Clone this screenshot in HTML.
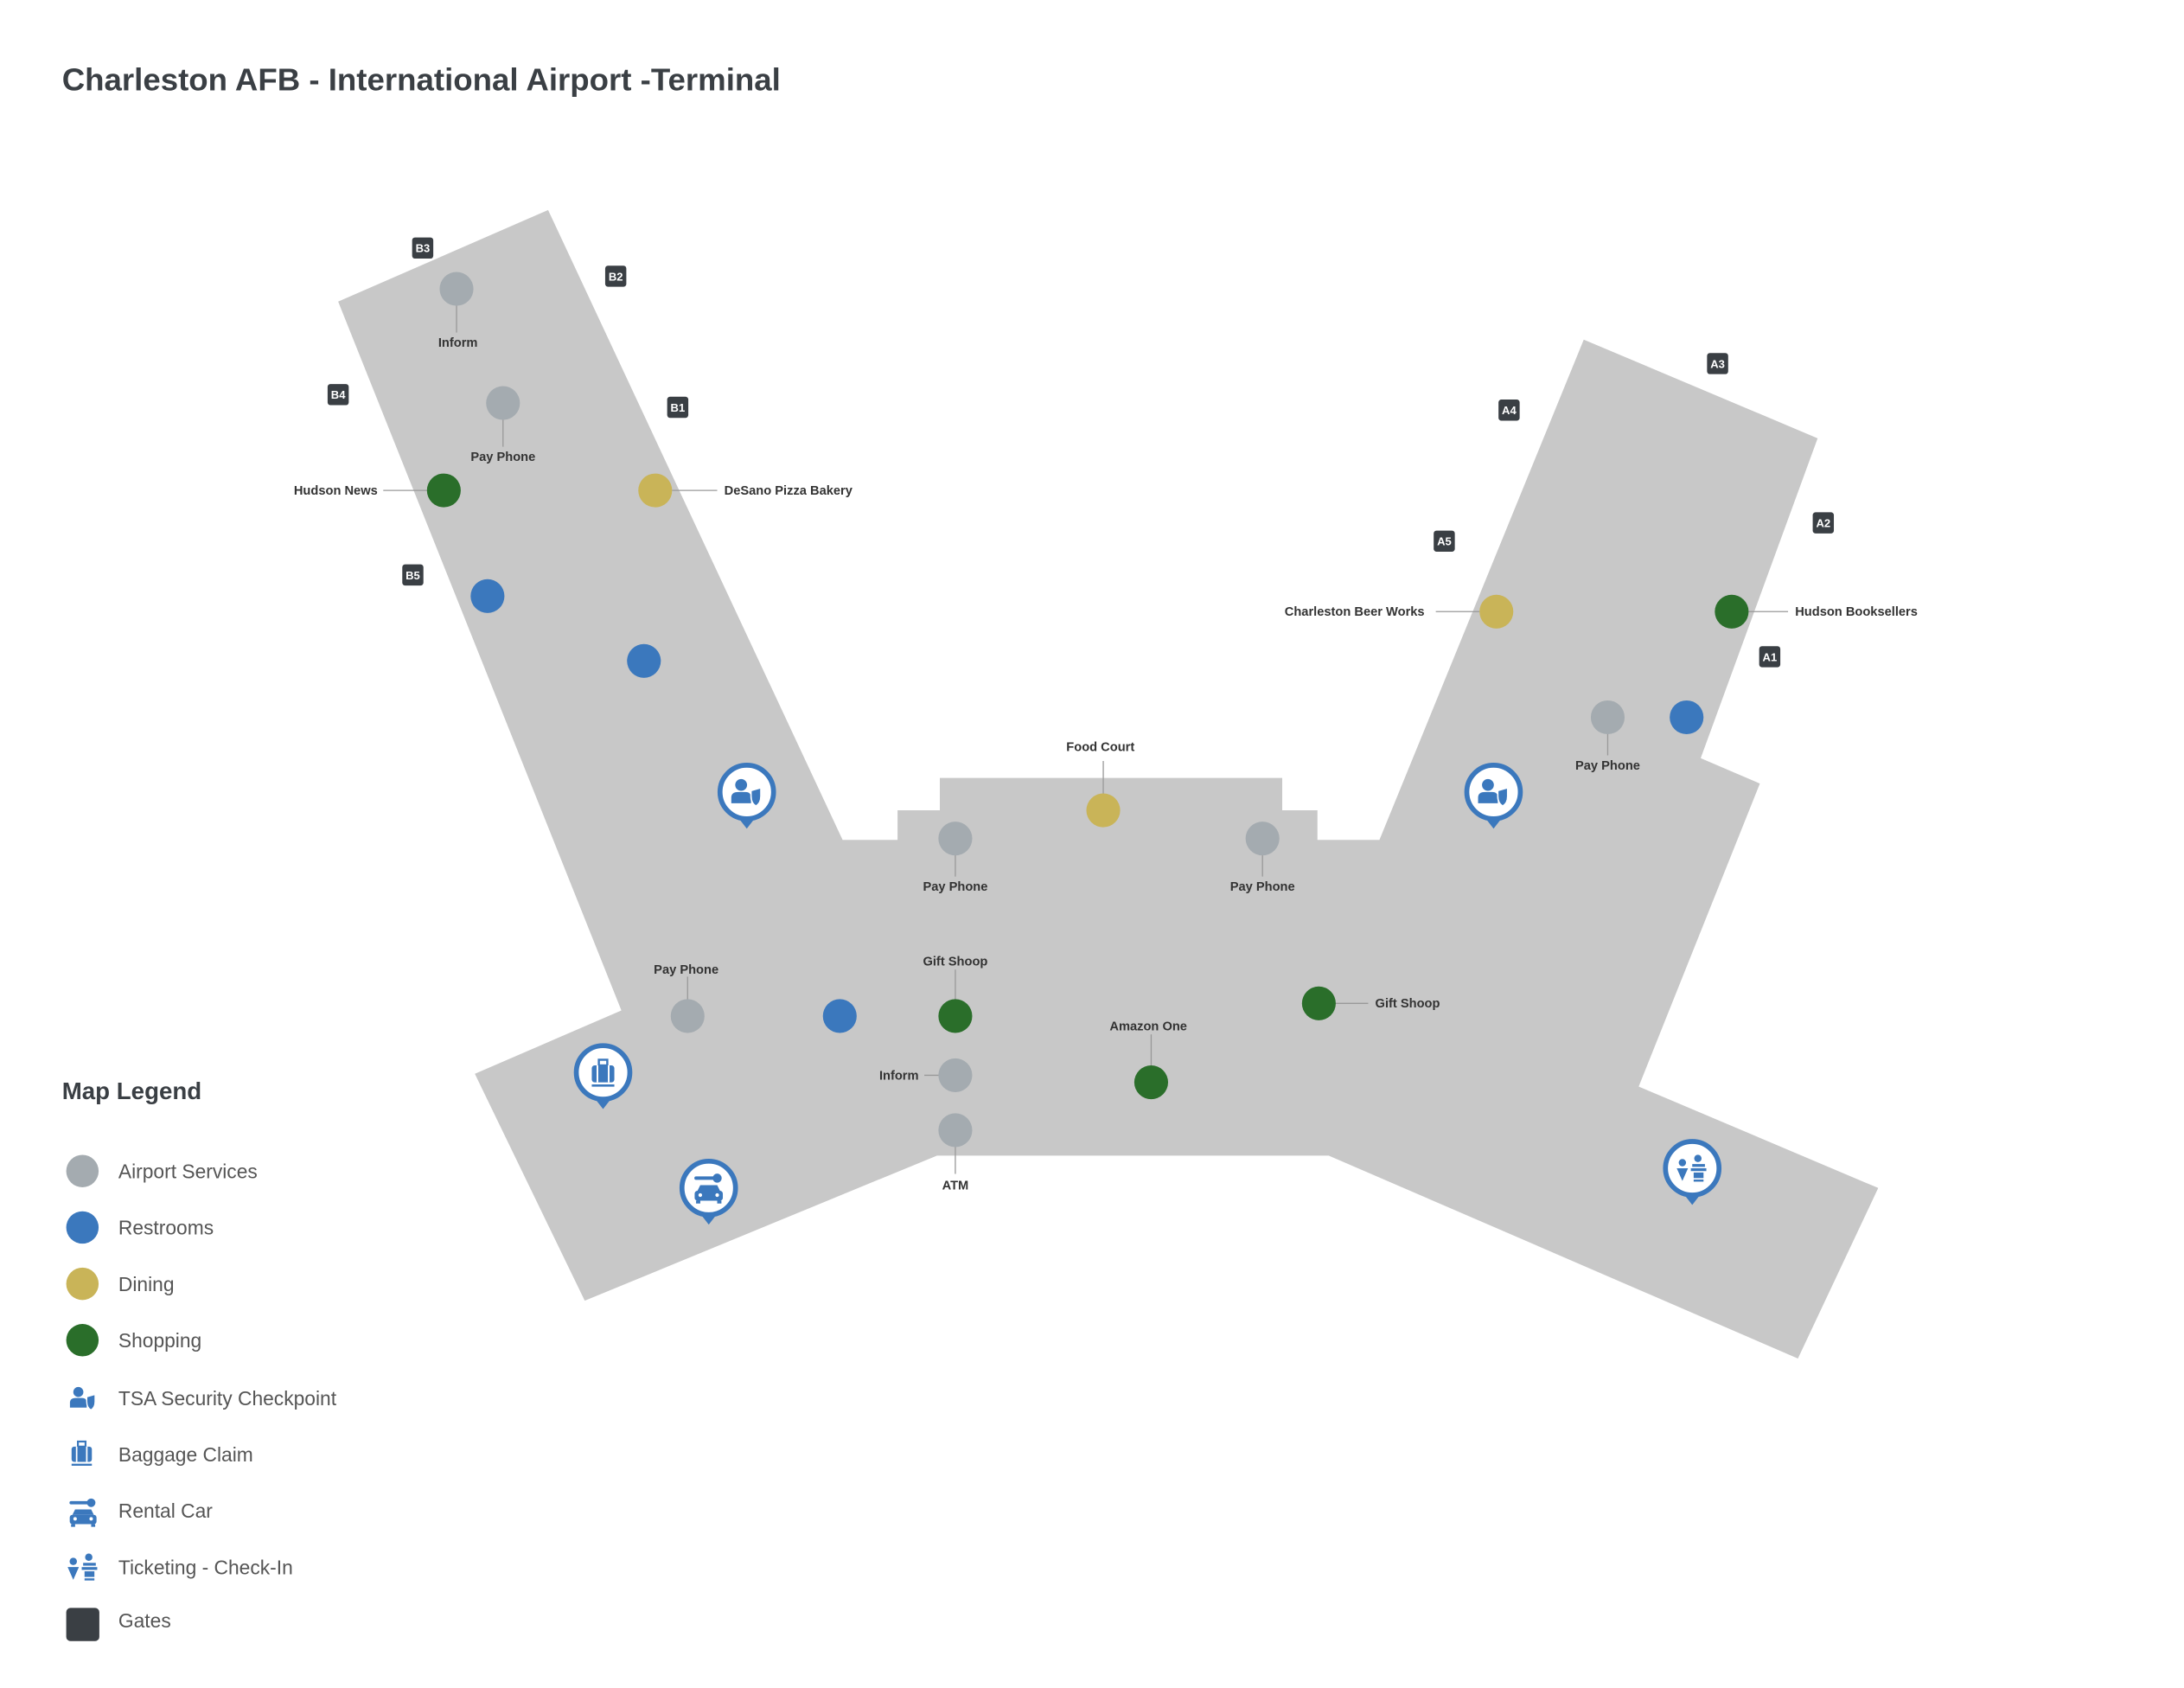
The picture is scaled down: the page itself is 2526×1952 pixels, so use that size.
<!DOCTYPE html>
<html><head><meta charset="utf-8"><style>
html,body{margin:0;padding:0;background:#fff;}
svg{display:block;}
</style></head><body>
<svg width="2526" height="1952" viewBox="0 0 1550 1197.8" preserveAspectRatio="none" xmlns="http://www.w3.org/2000/svg" font-family="Liberation Sans, sans-serif">
<defs>
<g id="tsa">
<circle cx="-4" cy="-5" r="4.2" fill="#3b78bd"/>
<path d="M-11 8 L-11 4 Q-11 0 -6 0 L-1 0 Q3 0 3 4 L3 8 Z" fill="#3b78bd"/>
<path d="M3 -1 L10 -3 L10 3 Q10 8 6.5 10 Q3 8 3 3 Z" fill="#3b78bd" stroke="#fff" stroke-width="1"/>
</g>
<g id="bag">
<rect x="-8" y="-5" width="16" height="12" rx="2" fill="#3b78bd"/>
<rect x="-3" y="-9" width="6" height="4" fill="none" stroke="#3b78bd" stroke-width="1.5"/>
<line x1="-4" y1="-5" x2="-4" y2="7" stroke="#fff" stroke-width="1.2"/>
<line x1="4" y1="-5" x2="4" y2="7" stroke="#fff" stroke-width="1.2"/>
<rect x="-8" y="8.5" width="16" height="1.6" fill="#3b78bd"/>
</g>
<g id="car">
<path d="M-9 -7 L3 -7" stroke="#3b78bd" stroke-width="2.4" stroke-linecap="round"/>
<circle cx="6" cy="-7" r="3.2" fill="#3b78bd"/>
<path d="M-6 -2 L6 -2 L8 2 L-8 2 Z" fill="#3b78bd"/>
<rect x="-10" y="2" width="20" height="7" rx="2" fill="#3b78bd"/>
<rect x="-9" y="9" width="3" height="2" fill="#3b78bd"/><rect x="6" y="9" width="3" height="2" fill="#3b78bd"/>
<circle cx="-6" cy="5" r="1.3" fill="#fff"/><circle cx="6" cy="5" r="1.3" fill="#fff"/>
</g>
<g id="tick">
<circle cx="-7" cy="-4" r="2.6" fill="#3b78bd"/>
<path d="M-11 0 L-3 0 L-7 9 Z" fill="#3b78bd"/>
<circle cx="4" cy="-7" r="2.6" fill="#3b78bd"/>
<rect x="0" y="-3" width="9" height="2" fill="#3b78bd"/>
<rect x="-1" y="0" width="11" height="2" fill="#3b78bd"/>
<rect x="1" y="3" width="7" height="4" fill="#3b78bd"/>
<rect x="1" y="8" width="7" height="1.5" fill="#3b78bd"/>
</g>
<g id="pin">
<path d="M-7 17 L0 26 L7 17 Z" fill="#3b78bd"/>
<circle r="19" fill="#fff" stroke="#3b78bd" stroke-width="3.5"/>
</g>
</defs>

<text x="44" y="64" font-size="22" font-weight="bold" fill="#3a3f44" textLength="510" lengthAdjust="spacingAndGlyphs">Charleston AFB - International Airport -Terminal</text>

<polygon fill="#c8c8c8" points="240,214 389,149 598,596 637,596 637,575 667,575 667,552 910,552 910,575 935,575 935,596 979,596 1124,241 1290,311 1207,538 1249,556 1163,771 1333,843 1276,964 943,820 665,820 415,923 337,762 441,717"/>

<g fill="#3a3f44">
<rect x="292.5" y="168.5" width="15" height="15" rx="2"/><rect x="429.5" y="188.5" width="15" height="15" rx="2"/>
<rect x="232.5" y="272.5" width="15" height="15" rx="2"/><rect x="473.5" y="281.5" width="15" height="15" rx="2"/>
<rect x="285.5" y="400.5" width="15" height="15" rx="2"/><rect x="1211.5" y="250.5" width="15" height="15" rx="2"/>
<rect x="1063.5" y="283.5" width="15" height="15" rx="2"/><rect x="1017.5" y="376.5" width="15" height="15" rx="2"/>
<rect x="1286.5" y="363.5" width="15" height="15" rx="2"/><rect x="1248.5" y="458.5" width="15" height="15" rx="2"/>
</g>
<g fill="#fff" font-size="8" font-weight="bold" text-anchor="middle">
<text x="300" y="179">B3</text><text x="437" y="199">B2</text><text x="240" y="283">B4</text><text x="481" y="292">B1</text><text x="293" y="411">B5</text>
<text x="1219" y="261">A3</text><text x="1071" y="294">A4</text><text x="1025" y="387">A5</text><text x="1294" y="374">A2</text><text x="1256" y="469">A1</text>
</g>

<g stroke="#999" stroke-width="0.8">
<line x1="324" y1="205" x2="324" y2="236"/><line x1="357" y1="286" x2="357" y2="317"/>
<line x1="272" y1="348" x2="303" y2="348"/><line x1="477" y1="348" x2="509" y2="348"/>
<line x1="1019" y1="434" x2="1050" y2="434"/><line x1="1241" y1="434" x2="1269" y2="434"/>
<line x1="1141" y1="509" x2="1141" y2="536"/><line x1="783" y1="540" x2="783" y2="575"/>
<line x1="678" y1="595" x2="678" y2="622"/><line x1="896" y1="595" x2="896" y2="622"/>
<line x1="488" y1="693" x2="488" y2="721"/><line x1="678" y1="688" x2="678" y2="721"/>
<line x1="656" y1="763" x2="678" y2="763"/><line x1="678" y1="802" x2="678" y2="833"/>
<line x1="817" y1="734" x2="817" y2="768"/><line x1="936" y1="712" x2="971" y2="712"/>
</g>

<g fill="#a4abb0">
<circle cx="324" cy="205" r="12"/><circle cx="357" cy="286" r="12"/><circle cx="1141" cy="509" r="12"/>
<circle cx="678" cy="595" r="12"/><circle cx="896" cy="595" r="12"/><circle cx="488" cy="721" r="12"/>
<circle cx="678" cy="763" r="12"/><circle cx="678" cy="802" r="12"/>
</g>
<g fill="#3b78bd">
<circle cx="346" cy="423" r="12"/><circle cx="457" cy="469" r="12"/><circle cx="1197" cy="509" r="12"/><circle cx="596" cy="721" r="12"/>
</g>
<g fill="#c9b458">
<circle cx="465" cy="348" r="12"/><circle cx="1062" cy="434" r="12"/><circle cx="783" cy="575" r="12"/>
</g>
<g fill="#2a6e2a">
<circle cx="315" cy="348" r="12"/><circle cx="1229" cy="434" r="12"/><circle cx="678" cy="721" r="12"/>
<circle cx="817" cy="768" r="12"/><circle cx="936" cy="712" r="12"/>
</g>

<g fill="#333" font-size="9" font-weight="bold">
<g text-anchor="middle">
<text x="325" y="246">Inform</text><text x="357" y="327">Pay Phone</text><text x="1141" y="546">Pay Phone</text>
<text x="781" y="533">Food Court</text><text x="678" y="632">Pay Phone</text><text x="896" y="632">Pay Phone</text>
<text x="487" y="691">Pay Phone</text><text x="678" y="685">Gift Shoop</text><text x="678" y="844">ATM</text>
<text x="815" y="731">Amazon One</text>
</g>
<g text-anchor="end">
<text x="268" y="351">Hudson News</text><text x="1011" y="437">Charleston Beer Works</text><text x="652" y="766">Inform</text>
</g>
<text x="514" y="351">DeSano Pizza Bakery</text><text x="1274" y="437">Hudson Booksellers</text><text x="976" y="715">Gift Shoop</text>
</g>

<g transform="translate(530,562)"><use href="#pin"/><use href="#tsa"/></g>
<g transform="translate(1060,562)"><use href="#pin"/><use href="#tsa"/></g>
<g transform="translate(428,761)"><use href="#pin"/><use href="#bag"/></g>
<g transform="translate(503,843)"><use href="#pin"/><use href="#car"/></g>
<g transform="translate(1201,829)"><use href="#pin"/><use href="#tick"/></g>

<text x="44" y="780" font-size="17" font-weight="bold" fill="#3a3f44">Map Legend</text>
<circle cx="58.5" cy="831" r="11.5" fill="#a4abb0"/>
<circle cx="58.5" cy="871" r="11.5" fill="#3b78bd"/>
<circle cx="58.5" cy="911" r="11.5" fill="#c9b458"/>
<circle cx="58.5" cy="951" r="11.5" fill="#2a6e2a"/>
<g transform="translate(59,992) scale(0.85)"><use href="#tsa"/></g>
<g transform="translate(58,1031) scale(0.9)"><use href="#bag"/></g>
<g transform="translate(59,1073) scale(0.95)"><use href="#car"/></g>
<g transform="translate(59,1112) scale(1)"><use href="#tick"/></g>
<rect x="47" y="1141" width="23.5" height="23.5" rx="3" fill="#3a3f44"/>
<g fill="#555" font-size="14">
<text x="84" y="836">Airport Services</text><text x="84" y="876">Restrooms</text><text x="84" y="916">Dining</text>
<text x="84" y="956">Shopping</text><text x="84" y="997">TSA  Security Checkpoint</text><text x="84" y="1037">Baggage Claim</text>
<text x="84" y="1077">Rental Car</text><text x="84" y="1117">Ticketing - Check-In</text><text x="84" y="1155">Gates</text>
</g>
</svg>
</body></html>
